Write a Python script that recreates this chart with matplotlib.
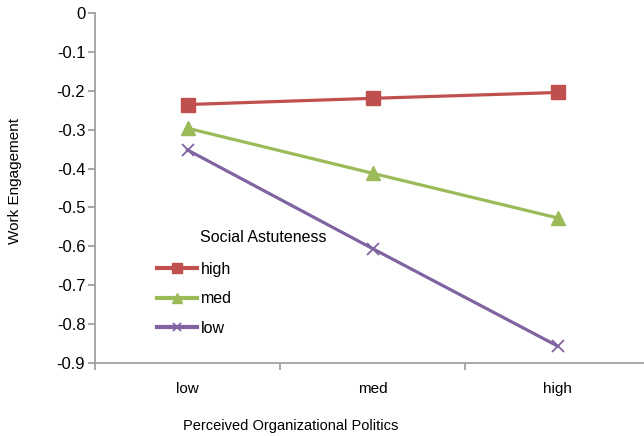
import matplotlib.pyplot as plt

plt.rcParams['font.family'] = ['Liberation Sans', 'DejaVu Sans']

categorias = ['low', 'med', 'high']
sa_high = [-0.235, -0.219, -0.204]
sa_med = [-0.296, -0.412, -0.527]
sa_low = [-0.352, -0.606, -0.857]

fig = plt.figure(figsize=(6.44, 4.36), dpi=100)
ax = fig.add_axes([95 / 644, 1 - 362.7 / 436, 555 / 644, 349.4 / 436])

x = range(len(categorias))
ax.plot(x, sa_high, color='#C0504D', lw=2.3, marker='s', ms=9.5, label='high')
ax.plot(x, sa_med, color='#9BBB59', lw=2.3, marker='^', ms=10, label='med')
ax.plot(x, sa_low, color='#8064A2', lw=2.3, marker='x', ms=8, mew=1.3, label='low')

ax.set_xlim(-0.5, 2.5)
ax.set_ylim(-0.9, 0)
ax.set_yticks([-0.9, -0.8, -0.7, -0.6, -0.5, -0.4, -0.3, -0.2, -0.1, 0])
ax.set_yticklabels(['-0.9', '-0.8', '-0.7', '-0.6', '-0.5', '-0.4', '-0.3', '-0.2', '-0.1', '0'])
ax.set_xticks(list(x))
ax.set_xticklabels(categorias)
ax.set_xticks([-0.5, 0.5, 1.5, 2.5], minor=True)

# estilo tipo excel
for s in ['top', 'right']:
    ax.spines[s].set_visible(False)
for s in ['left', 'bottom']:
    ax.spines[s].set_color('#A0A0A0')
    ax.spines[s].set_linewidth(1.3)
ax.tick_params(axis='x', which='major', length=0, pad=14, labelsize=11)
ax.tick_params(axis='x', which='minor', length=5, color='#A0A0A0', width=1.3)
ax.tick_params(axis='y', length=5, color='#A0A0A0', width=1.3, labelsize=12, pad=2)

fig.text(15 / 644, 1 - 181 / 436, 'Work Engagement', rotation=90, ha='center', va='center', fontsize=11)
fig.text(291 / 644, 1 - 426 / 436, 'Perceived Organizational Politics', ha='center', va='center', fontsize=10.5)

# leyenda
fig.text(200 / 644, 1 - 238 / 436, 'Social Astuteness', ha='left', va='center', fontsize=11.5)
leg = ax.legend(loc='upper left', bbox_to_anchor=(157 / 644, 1 - 262 / 436),
                bbox_transform=fig.transFigure, frameon=False, fontsize=11.5,
                handlelength=2.5, handletextpad=0.25, labelspacing=0.9, borderpad=0,
                borderaxespad=0, markerscale=0.75)
for linea in leg.get_lines():
    linea.set_linewidth(3)

plt.savefig('out.png', dpi=100)
